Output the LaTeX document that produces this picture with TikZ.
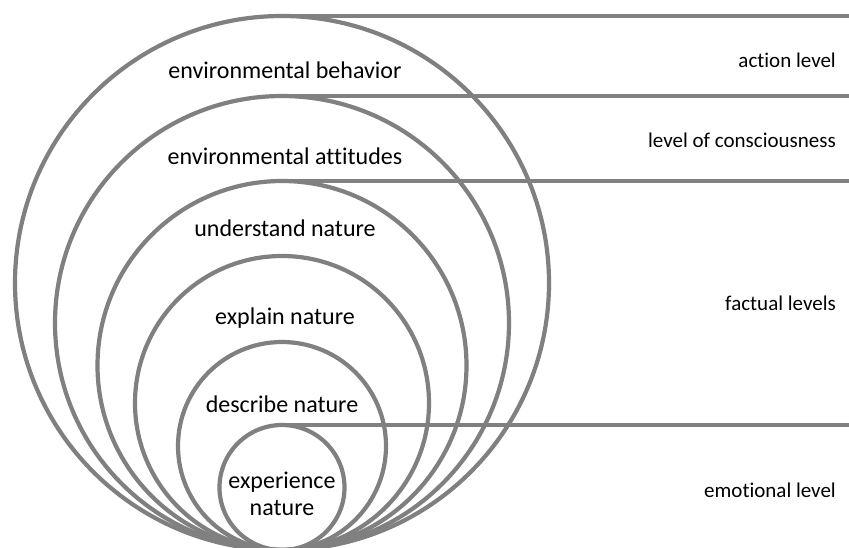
\documentclass[tikz,border=0pt]{standalone}
\usepackage{fontspec}
\setmainfont[RawFeature={-liga;-dlig}]{Carlito}
\definecolor{ringgray}{RGB}{128,128,128}
\begin{document}
\begin{tikzpicture}[x=1pt,y=-1pt,
  ring/.style={circle,draw=ringgray,line width=4.2pt,inner sep=0pt,outer sep=0pt,minimum size=#1},
  rule/.style={draw=ringgray,line width=4.2pt},
  inlabel/.style={font=\fontsize{24}{27}\selectfont,align=center,inner sep=0pt},
  sidelabel/.style={font=\fontsize{21}{24}\selectfont,anchor=east,inner sep=0pt}]
\useasboundingbox (0,0) rectangle (849,548);
% nested rings, all touching at the bottom
\node[ring=534] (c1) at (282,283) {};
\node[ring=454] (c2) at (282,323) {};
\node[ring=369] (c3) at (282,365.5) {};
\node[ring=294] (c4) at (282,403) {};
\node[ring=208] (c5) at (282,446) {};
\node[ring=125] (c6) at (282,487.5) {};
% level boundaries
\coordinate (e1) at (849,16);
\coordinate (e2) at (849,96);
\coordinate (e3) at (849,181);
\coordinate (e6) at (849,425);
\draw[rule] (c1.north) -- (e1 |- c1.north);
\draw[rule] (c2.north) -- (e2 |- c2.north);
\draw[rule] (c3.north) -- (e3 |- c3.north);
\draw[rule] (c6.north) -- (e6 |- c6.north);
% ring labels
\node[inlabel] (t1) at (285,70) {environmental behavior};
\node[inlabel] (t2) at (285,156) {environmental attitudes};
\node[inlabel] (t3) at (285,228) {understand nature};
\node[inlabel] (t4) at (285,318) {explain nature};
\node[inlabel] (t5) at (282,404) {describe nature};
\node[inlabel] (t6) at (282,494) {experience\\nature};
% level names
\node[sidelabel] (s1) at (836,60) {action level};
\node[sidelabel] (s2) at (836,140) {level of consciousness};
\node[sidelabel] (s3) at (836,303) {factual levels};
\node[sidelabel] (s4) at (836,490) {emotional level};
\end{tikzpicture}
\end{document}
